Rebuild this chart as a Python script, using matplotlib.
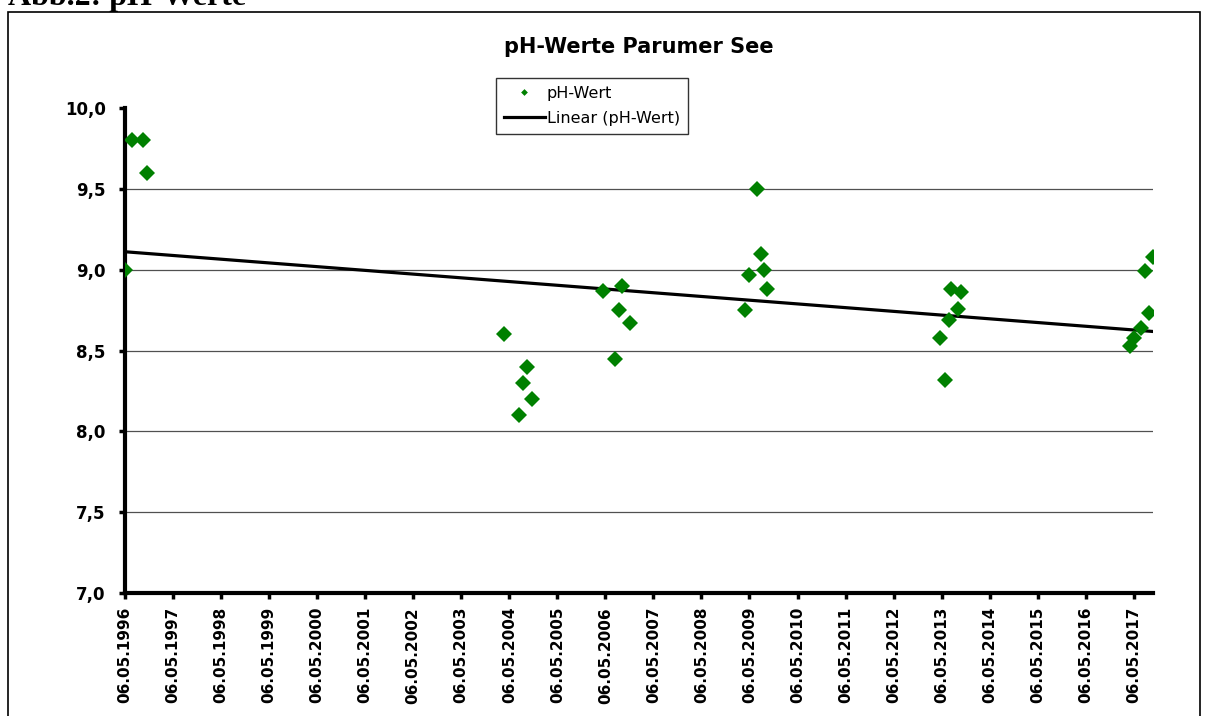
import numpy as np
import matplotlib
matplotlib.use("Agg")
import matplotlib.pyplot as plt
import matplotlib.dates as mdates
from matplotlib.patches import Rectangle
from datetime import datetime

# sampling dates and pH values
dates = [
    "1996-05-06", "1996-06-30", "1996-09-18", "1996-10-21",
    "2004-03-23", "2004-07-22", "2004-08-20", "2004-09-18", "2004-10-28",
    "2006-04-21", "2006-07-18", "2006-08-20", "2006-09-11", "2006-11-12",
    "2009-03-30", "2009-05-06", "2009-06-30", "2009-08-05", "2009-08-27", "2009-09-18",
    "2013-04-21", "2013-06-04", "2013-06-30", "2013-07-18", "2013-09-11", "2013-09-29",
    "2017-04-07", "2017-05-06", "2017-06-30", "2017-07-29", "2017-08-27", "2017-09-29",
]
ph = [
    9.0, 9.8, 9.8, 9.6,
    8.6, 8.1, 8.3, 8.4, 8.2,
    8.87, 8.45, 8.75, 8.9, 8.67,
    8.75, 8.97, 9.5, 9.1, 9.0, 8.88,
    8.58, 8.32, 8.69, 8.88, 8.76, 8.86,
    8.53, 8.58, 8.64, 8.99, 8.73, 9.08,
]
tick_years = list(range(1996, 2018))
y_ticks = [7.0, 7.5, 8.0, 8.5, 9.0, 9.5, 10.0]

x = mdates.date2num([datetime.strptime(d, "%Y-%m-%d") for d in dates])
y = np.array(ph)

fig = plt.figure(figsize=(12.09, 7.16), dpi=100)
ax = fig.add_axes([0.1034, 0.1718, 0.8503, 0.6772])

# gridlines only between the bottom and top ticks
for v in y_ticks[1:-1]:
    ax.axhline(v, color="#505050", lw=0.9, zorder=1)

ax.plot(x, y, "D", color="#008000", ms=8.6, mew=0, label="pH-Wert", zorder=3)

# linear trend
k, d = np.polyfit(x, y, 1)
xl = np.array([mdates.date2num(datetime(1996, 5, 6)), x.max()])
ax.plot(xl, k * xl + d, color="black", lw=2.3, label="Linear (pH-Wert)", zorder=2)

ax.set_ylim(7.0, 10.0)
ax.set_yticks(y_ticks)
ax.set_yticklabels([f"{v:.1f}".replace(".", ",") for v in y_ticks],
                   fontsize=12, fontweight="bold")
ticks = [mdates.date2num(datetime(yr, 5, 6)) for yr in tick_years]
ax.set_xticks(ticks)
ax.set_xticklabels([f"06.05.{yr}" for yr in tick_years], rotation=90,
                   fontsize=11, fontweight="bold")
ax.set_xlim(ticks[0], x.max())

for s in ["top", "right"]:
    ax.spines[s].set_visible(False)
for s in ["left", "bottom"]:
    ax.spines[s].set_linewidth(3)
ax.tick_params(axis="x", length=4, width=2.5, pad=6)
ax.tick_params(axis="y", length=4, width=2.5, pad=10)

ax.set_title("pH-Werte Parumer See", fontsize=15, fontweight="bold", pad=39.5)

leg = fig.legend(loc="upper left", bbox_to_anchor=(0.410, 0.891), frameon=True,
                 fancybox=False, markerscale=0.4, fontsize=11.5, handlelength=2.6,
                 borderpad=0.5, handletextpad=0.1, labelspacing=0.6,
                 borderaxespad=0)
leg.get_frame().set_edgecolor("black")
leg.get_frame().set_linewidth(1)

fig.patches.append(Rectangle((0.0066, -0.01), 0.986, 0.9932, transform=fig.transFigure,
                             fill=False, edgecolor="black", lw=1.2))
fig.text(0.0066, 1 - 5 / 716, "Abb.2: pH-Werte", fontsize=23, fontweight="bold",
         family="Liberation Serif", va="baseline", ha="left")

fig.savefig("out.png", dpi=100)
